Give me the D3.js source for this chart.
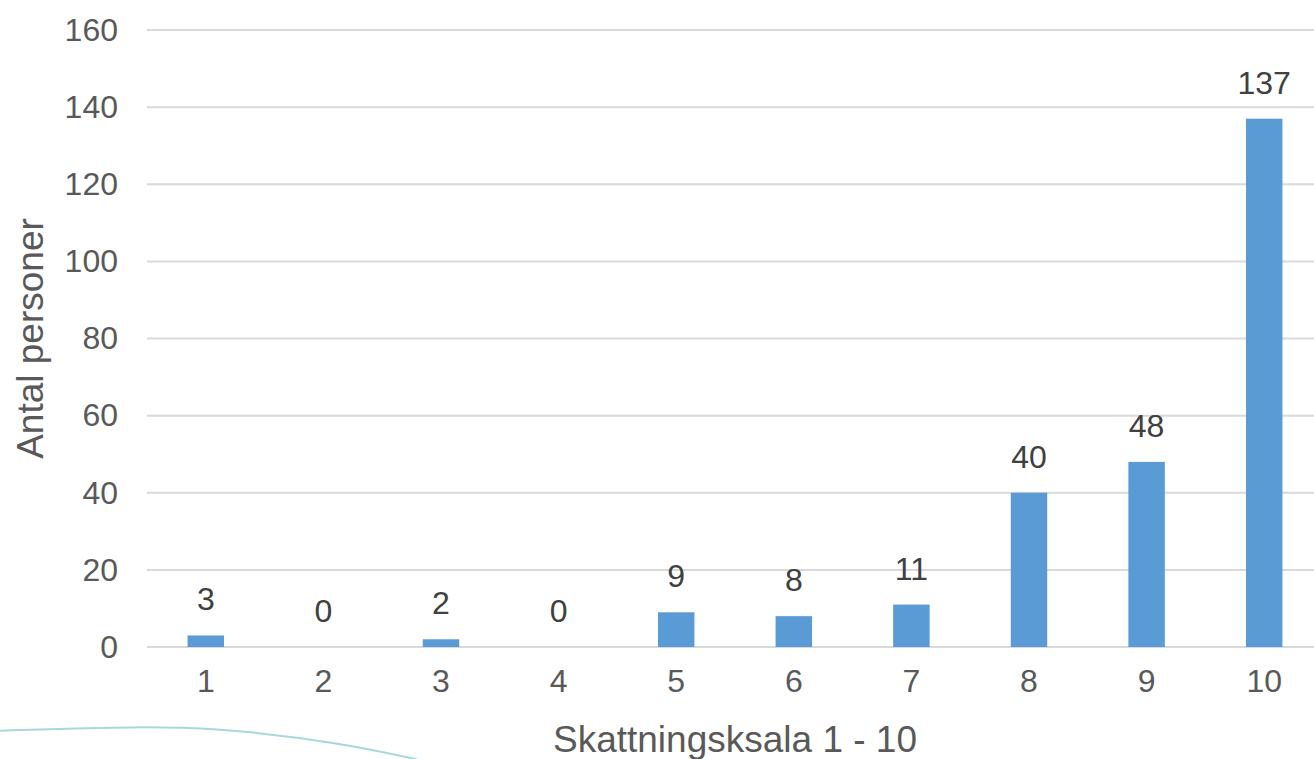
<!DOCTYPE html>
<html>
<head>
<meta charset="utf-8">
<script src="https://cdn.jsdelivr.net/npm/d3@7"></script>
<style>
  html, body { margin: 0; padding: 0; background: #fff; }
  svg { display: block; }
</style>
</head>
<body>
<div id="chart"></div>
<script>
const categories = ["1", "2", "3", "4", "5", "6", "7", "8", "9", "10"];
const values = [3, 0, 2, 0, 9, 8, 11, 40, 48, 137];
const yTicks = [0, 20, 40, 60, 80, 100, 120, 140, 160];
const xTitle = "Skattningsksala 1 - 10";
const yTitle = "Antal personer";

const width = 1314, height = 759;
const margin = { top: 30, right: -9, bottom: 112, left: 147 };
const font = "Liberation Sans, Arial, sans-serif";

const svg = d3.select("#chart")
  .append("svg")
  .attr("width", width)
  .attr("height", height);

// slide decoration in the lower left corner
svg.append("path")
  .attr("d", d3.line().curve(d3.curveBasis)([[-10, 731], [120, 727], [210, 727], [340, 742], [455, 768]]))
  .attr("fill", "none")
  .attr("stroke", "#a8d8da")
  .attr("stroke-width", 2);

const x = d3.scaleBand()
  .domain(categories)
  .range([margin.left, width - margin.right])
  .paddingInner(0.69)
  .paddingOuter(0.345);

const y = d3.scaleLinear()
  .domain([0, 160])
  .range([height - margin.bottom, margin.top]);

// gridlines
svg.append("g")
  .selectAll("line")
  .data(yTicks)
  .join("line")
  .attr("x1", margin.left)
  .attr("x2", width - margin.right)
  .attr("y1", d => y(d))
  .attr("y2", d => y(d))
  .attr("stroke", "#d9d9d9")
  .attr("stroke-width", 2);

// y axis labels
const yAxis = svg.append("g")
  .attr("transform", `translate(${margin.left},0)`)
  .call(d3.axisLeft(y).tickValues(yTicks).tickSize(0).tickPadding(29));
yAxis.select(".domain").remove();
yAxis.selectAll("text")
  .attr("font-family", font)
  .attr("font-size", 32)
  .attr("fill", "#595959");

// x axis labels
const xAxis = svg.append("g")
  .attr("transform", `translate(0,${height - margin.bottom})`)
  .call(d3.axisBottom(x).tickSize(0).tickPadding(22));
xAxis.select(".domain").remove();
xAxis.selectAll("text")
  .attr("font-family", font)
  .attr("font-size", 32)
  .attr("fill", "#595959");

// bars
svg.append("g")
  .selectAll("rect")
  .data(values)
  .join("rect")
  .attr("x", (d, i) => x(categories[i]))
  .attr("width", x.bandwidth())
  .attr("y", d => y(d))
  .attr("height", d => y(0) - y(d))
  .attr("fill", "#5b9bd5");

// data labels
svg.append("g")
  .selectAll("text")
  .data(values)
  .join("text")
  .attr("x", (d, i) => x(categories[i]) + x.bandwidth() / 2)
  .attr("y", d => y(d) - 25)
  .attr("text-anchor", "middle")
  .attr("font-family", font)
  .attr("font-size", 32)
  .attr("fill", "#404040")
  .text(d => d);

// axis titles
svg.append("text")
  .attr("x", (margin.left + width - margin.right) / 2)
  .attr("y", 752)
  .attr("text-anchor", "middle")
  .attr("font-family", font)
  .attr("font-size", 37)
  .attr("fill", "#595959")
  .text(xTitle);

svg.append("text")
  .attr("transform", `translate(43,${(y(0) + y(160)) / 2}) rotate(-90)`)
  .attr("text-anchor", "middle")
  .attr("font-family", font)
  .attr("font-size", 37)
  .attr("fill", "#595959")
  .text(yTitle);
</script>
</body>
</html>
